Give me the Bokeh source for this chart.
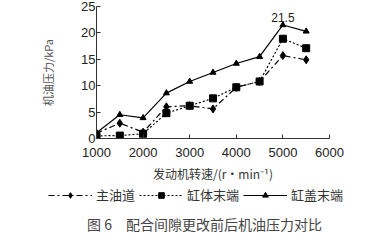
from bokeh.plotting import figure
from bokeh.layouts import column
from bokeh.models import Legend, LegendItem, Label, ColumnDataSource, Range1d, FixedTicker
from bokeh.core.properties import value
from bokeh.embed import file_html
from bokeh.resources import INLINE

speed = [1000, 1500, 2000, 2500, 3000, 3500, 4000, 4500, 5000, 5500]
main_gallery = [1.0, 2.9, 1.2, 6.0, 6.2, 5.6, 9.7, 10.8, 15.7, 14.9]
block_end = [0.5, 0.55, 0.9, 4.8, 6.2, 7.6, 9.7, 10.8, 18.9, 17.1]
head_end = [1.1, 4.5, 3.9, 8.6, 10.8, 12.5, 14.2, 15.5, 21.5, 20.3]
series_names = ["主油道", "缸体末端", "缸盖末端"]
x_ticks = [1000, 2000, 3000, 4000, 5000, 6000]
y_ticks = [0, 5, 10, 15, 20, 25]
peak_x = [5000]
peak_y = [21.5]
peak_text = ["21.5"]
caption_text = "图\u00a06\u3000配合间隙更改前后机油压力对比"

CJK = "Noto Sans CJK SC"
NUM = "Liberation Sans"
NAN = float("nan")

styles = [dict(marker="diamond", size=8, dash="6 3 2 3"),
          dict(marker="square", size=7, dash="2 2"),
          dict(marker="triangle", size=6, dash="solid")]

p = figure(width=391, height=185, output_backend="svg", toolbar_location=None,
           x_range=Range1d(1000, 6000), y_range=Range1d(0, 25),
           min_border_left=96, min_border_right=62, min_border_top=6, min_border_bottom=47)
p.outline_line_color = None
p.grid.visible = False

for ax in (p.xaxis[0], p.yaxis[0]):
    ax.axis_line_color = "#333333"
    ax.major_tick_line_color = "#333333"
    ax.major_tick_in = 4
    ax.major_tick_out = 0
    ax.minor_tick_line_color = None
    ax.major_label_text_font = NUM
    ax.major_label_text_font_size = "13px"
    ax.major_label_text_color = "#222222"
    ax.axis_label_text_font = CJK
    ax.axis_label_text_font_style = "normal"
    ax.axis_label_text_color = "#333333"

p.xaxis.ticker = FixedTicker(ticks=x_ticks)
p.yaxis.ticker = FixedTicker(ticks=y_ticks)
p.xaxis.major_label_standoff = 9
p.yaxis.major_label_standoff = 1
p.xaxis.axis_label = "发动机转速/(r·min⁻¹)"
p.xaxis.axis_label_text_font_size = "12px"
p.xaxis.axis_label_standoff = 5
p.yaxis.axis_label = "机油压力/kPa"
p.yaxis.axis_label_text_font_size = "11px"
p.yaxis.axis_label_text_color = "#555555"
p.yaxis.axis_label_standoff = 22

src = ColumnDataSource(dict(x=speed, a=main_gallery, b=block_end, c=head_end))
for col, st in zip(["a", "b", "c"], styles):
    p.line("x", col, source=src, line_color="black", line_width=1.2, line_dash=st["dash"])
    p.scatter("x", col, source=src, marker=st["marker"], size=st["size"], color="black")

p.text(x=peak_x, y=peak_y, text=peak_text, text_align="center", text_baseline="bottom",
       y_offset=-3, text_font=value(NUM), text_font_size="12px", text_color="#222222")

# lower strip: legend and figure caption, frame spans the whole strip
q = figure(width=391, height=55, output_backend="svg", toolbar_location=None,
           x_range=Range1d(0, 391), y_range=Range1d(0, 55),
           min_border_left=0, min_border_right=0, min_border_top=0, min_border_bottom=0,
           x_axis_location=None, y_axis_location=None)
q.outline_line_color = None
q.grid.visible = False
for fig in (p, q):
    try:
        fig.frame_align = False
    except Exception:
        pass

items = []
for name, st in zip(series_names, styles):
    lr = q.line(x=[NAN], y=[NAN], line_color="black", line_width=1.2, line_dash=st["dash"])
    mr = q.scatter(x=[NAN], y=[NAN], marker=st["marker"], size=st["size"], color="black")
    items.append(LegendItem(label=name, renderers=[lr, mr]))

legend = Legend(items=items, orientation="horizontal", location=(48, 36),
                glyph_width=44, glyph_height=14, label_standoff=4, spacing=4,
                padding=0, margin=0, border_line_color=None, background_fill_alpha=0,
                label_text_font=CJK, label_text_font_size="13px", label_text_color="#333333")
q.add_layout(legend)

q.add_layout(Label(x=204, y=17, text=caption_text, text_align="center", text_baseline="middle",
                   text_font=CJK, text_font_size="14px", text_color="#444444"))

open("out.html", "w").write(file_html(column(p, q, spacing=0), INLINE))
